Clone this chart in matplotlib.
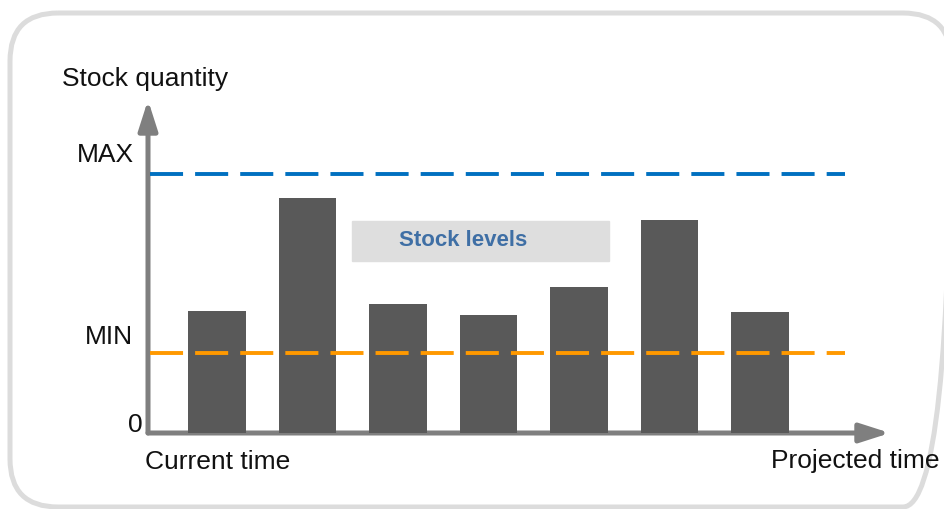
import matplotlib.pyplot as plt
from matplotlib.patches import FancyBboxPatch, Rectangle

plt.rcParams['font.family'] = ['Liberation Sans', 'DejaVu Sans']

# data (arbitrary stock units)
periods = [0, 1, 2, 3, 4, 5, 6]
stock = [122, 235, 129, 118, 146, 213, 121]
max_level = 259
min_level = 80

W, H = 945, 509
fig = plt.figure(figsize=(W / 100, H / 100), dpi=100)

# background axes in pixel units, only for the rounded frame
bg = fig.add_axes([0, 0, 1, 1])
bg.set_xlim(0, W)
bg.set_ylim(H, 0)
bg.axis('off')
frame = FancyBboxPatch((10, 13), 941, 494,
                       boxstyle="round,pad=0,rounding_size=48",
                       fill=False, edgecolor='#dcdcdc', linewidth=3.6,
                       clip_on=True)
bg.add_patch(frame)

ax = fig.add_axes([148 / W, (H - 433) / H, 742 / W, 333 / H])
ax.set_xlim(-0.762, 7.436)
ax.set_ylim(0, 333)
ax.axis('off')

ax.bar(periods, stock, width=0.64, color='#595959', zorder=3)

ax.axhline(max_level, xmin=0.003, xmax=0.94, color='#0070c0', lw=2.8,
           dashes=(8.5, 3.1), zorder=4)
ax.axhline(min_level, xmin=0.003, xmax=0.94, color='#ff9900', lw=2.8,
           dashes=(8.5, 3.1), zorder=4)

# axes with arrow heads
arrow = dict(arrowstyle='-|>,head_length=1.0,head_width=0.32', lw=3.6,
             color='#7f7f7f', mutation_scale=18, shrinkA=0, shrinkB=0)
ax.annotate('', xy=(0, 1), xytext=(0, 0), xycoords='axes fraction',
            arrowprops=arrow, zorder=2)
ax.annotate('', xy=(1, 0), xytext=(0, 0), xycoords='axes fraction',
            arrowprops=arrow, zorder=2)

# legend-like label box
ax.add_patch(Rectangle((1.49, 172), 2.84, 40, color='#dedede', zorder=2))
ax.text(2.72, 192, 'Stock levels', ha='center', va='center', fontsize=16,
        fontweight='bold', color='#3f6fa5', zorder=5)

# labels
def ftext(x, y, s, **kw):
    fig.text(x / W, 1 - y / H, s, fontsize=19, color='#111111', **kw)

ftext(62, 79, 'Stock quantity', ha='left', va='center')
ftext(134, 155, 'MAX', ha='right', va='center')
ftext(133, 337, 'MIN', ha='right', va='center')
ftext(143, 425, '0', ha='right', va='center')
ftext(145, 462, 'Current time', ha='left', va='center')
ftext(940, 461, 'Projected time', ha='right', va='center')

fig.savefig('out.png', dpi=100)
